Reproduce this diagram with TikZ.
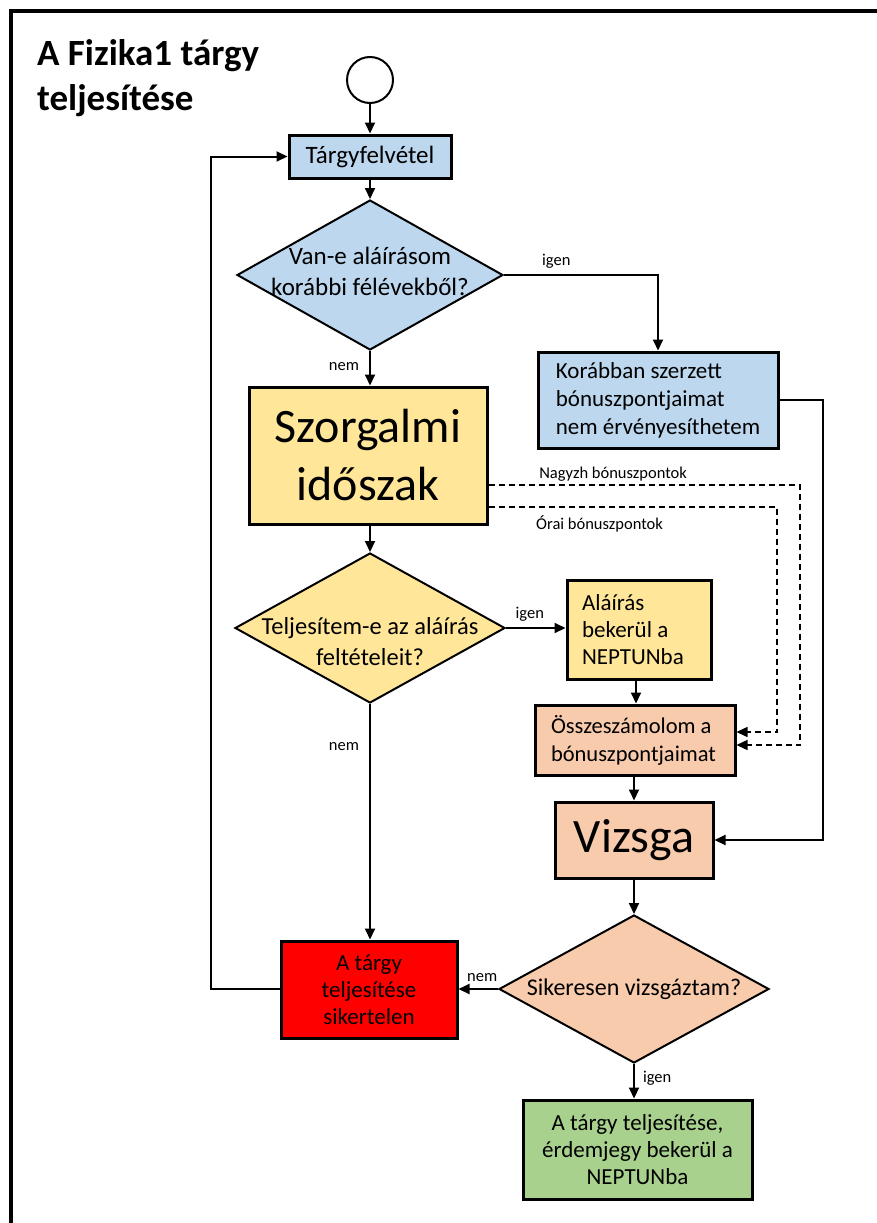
\documentclass[tikz,border=0pt]{standalone}
\usepackage{fontspec}
\setmainfont{Carlito}
\usetikzlibrary{shapes.geometric,arrows.meta}
\definecolor{cblue}{HTML}{BDD7EE}
\definecolor{cyellow}{HTML}{FFE699}
\definecolor{cpeach}{HTML}{F8CBAD}
\definecolor{cred}{HTML}{FF0000}
\definecolor{cgreen}{HTML}{A9D18E}
\begin{document}
\begin{tikzpicture}[x=1pt,y=-1pt,
  box/.style={draw, line width=3pt, rectangle, inner sep=0pt, font=\fontsize{23}{27}\selectfont, align=center},
  dia/.style={draw, line width=2pt, diamond, inner sep=0pt},
  dtext/.style={font=\fontsize{25}{31}\selectfont, align=center, inner sep=0pt},
  conn/.style={line width=2pt, -{Triangle[length=11pt,width=10pt]}},
  dconn/.style={line width=1.5pt, dash pattern=on 6pt off 4pt, -{Triangle[length=11pt,width=10pt]}},
  lbl/.style={font=\fontsize{16.5}{18}\selectfont, inner sep=0pt},
  big/.style={font=\fontsize{48}{58}\selectfont}
]
\useasboundingbox (0,0) rectangle (876,1223);
% outer frame
\draw[line width=4pt, line join=miter] (11,1230) -- (11,11.5) -- (880,11.5);
% title
\node[anchor=base west, inner sep=0pt, font=\bfseries\fontsize{37}{44}\selectfont] (ttl1) at (37,66) {A Fizika1 tárgy};
\node[anchor=base west, inner sep=0pt, font=\bfseries\fontsize{37}{44}\selectfont] (ttl2) at (37,110) {teljesítése};

% nodes
\node[draw, circle, line width=2pt, fill=white, minimum size=46pt, inner sep=0pt] (start) at (370,80) {};
\node[box, fill=cblue, minimum width=162pt, minimum height=43pt, font=\fontsize{25}{30}\selectfont] (targy) at (370,156.5) {Tárgyfelvétel};
\node[dia, fill=cblue, minimum width=266pt, minimum height=150pt,
  label={[dtext, yshift=4pt]center:Van-e aláírásom\\korábbi félévekből?}] (d1) at (370,275) {};
\node[box, fill=cblue, minimum width=240pt, minimum height=96pt, align=flush left, font=\fontsize{23}{28}\selectfont] (korabban) at (658,400)
  {Korábban szerzett\\bónuszpontjaimat\\nem érvényesíthetem};
\node[box, fill=cyellow, minimum width=238pt, minimum height=137pt, big] (szorg) at (368,455.5)
  {Szorgalmi\\időszak};
\node[dia, fill=cyellow, minimum width=270pt, minimum height=150pt,
  label={[dtext, font=\fontsize{24.5}{31}\selectfont, yshift=-14pt]center:Teljesítem-e az aláírás\\feltételeit?}] (d2) at (370,628) {};
\node[box, fill=cyellow, minimum height=99pt, text width=114pt, inner xsep=15pt, align=flush left] (alairas) at (639,629.5)
  {Aláírás\\bekerül a\\NEPTUNba};
\node[box, fill=cpeach, minimum height=70pt, text width=168pt, inner xsep=16pt, align=flush left, font=\fontsize{22.5}{28}\selectfont] (ossz) at (635,740)
  {Összeszámolom a\\bónuszpontjaimat};
\node[box, fill=cpeach, minimum width=158pt, minimum height=76pt, big] (vizsga) at (634,840) {Vizsga};
\node[dia, fill=cpeach, minimum width=270pt, minimum height=148pt,
  label={[dtext, font=\fontsize{24}{30}\selectfont]center:Sikeresen vizsgáztam?}] (d3) at (634,989) {};
\node[box, fill=cred, minimum width=176pt, minimum height=97pt, font=\fontsize{23}{27}\selectfont] (red) at (369,989.5)
  {A tárgy\\teljesítése\\sikertelen};
\node[box, fill=cgreen, minimum width=229pt, minimum height=99pt] (green) at (637.5,1149.5)
  {A tárgy teljesítése,\\érdemjegy bekerül a\\NEPTUNba};

% helper coordinates
\coordinate (lp) at (211,989);
\coordinate (kr) at (823,400);
\coordinate (nz) at (800,485);
\coordinate (oz) at (777,507);
\coordinate (ax) at (636,0);

% connectors
\draw[conn] (start.south) -- (start.south |- targy.north);
\draw[conn] (targy.south -| d1.north) -- (d1.north);
\draw[conn] (d1.east) -| node[lbl, pos=0.17, above=6pt] (lig1) {igen} (korabban.north);
\draw[conn] (d1.south) -- node[lbl, pos=0.45, left=10pt] (lnem1) {nem} (d1.south |- szorg.north);
\draw[conn] (szorg.south -| d2.north) -- (d2.north);
\draw[conn] (d2.east) -- node[lbl, pos=0.4, above=6pt] (lig2) {igen} (d2.east -| alairas.west);
\draw[conn] (alairas.south -| ax) -- (ossz.north -| ax);
\draw[conn] (ossz.south -| vizsga.north) -- (vizsga.north);
\draw[conn] (vizsga.south) -- (vizsga.south |- d3.north);
\draw[conn] (d3.west) -- node[lbl, pos=0.4, above=6pt] (lnem3) {nem} (d3.west -| red.east);
\draw[conn] (d3.south) -- node[lbl, pos=0.4, right=8pt] (lig3) {igen} (d3.south |- green.north);
\draw[conn] (d2.south) -- node[lbl, pos=0.18, left=10pt] (lnem2) {nem} (d2.south |- red.north);
\draw[conn] (red.west |- lp) -- (lp) |- (targy.west);
\draw[conn] (korabban.east |- kr) -- (kr) |- (vizsga.east);
\draw[dconn] (szorg.east |- nz) -- node[lbl, above=3pt, pos=0.4] (lnagy) {Nagyzh bónuszpontok} (nz) |- ([yshift=-5pt]ossz.east);
\draw[dconn] (szorg.east |- oz) -- node[lbl, below=8pt, pos=0.385] (lorai) {Órai bónuszpontok} (oz) |- ([yshift=8pt]ossz.east);
\end{tikzpicture}
\end{document}
